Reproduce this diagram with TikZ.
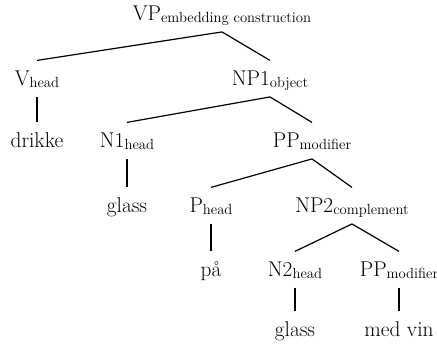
\documentclass[tikz,border=0pt]{standalone}
\usepackage{tikz}
\usetikzlibrary{positioning}
\newcommand{\lab}[1]{\raisebox{-1.5pt}{\fontsize{11}{12}\selectfont #1}}
\tikzset{
  every picture/.style={x=0.75pt, y=-0.75pt},
  cat/.style={font=\fontsize{16}{18}\selectfont, text height=14pt, text depth=3pt,
              inner xsep=1pt, inner ysep=5pt, anchor=base},
  rama/.style={line width=0.9pt},
}
\begin{document}
\begin{tikzpicture}
  \useasboundingbox (0,0) rectangle (437,349);
  % categorias
  \node[cat] (vp) at (222,21) {VP\lab{embedding construction}};
  \node[cat] (vh) at (37,86) {V\lab{head}};
  \node[cat] (np1) at (270,86) {NP1\lab{object}};
  \node[cat] (drikke) at (37,148) {drikke};
  \node[cat] (n1) at (127,148) {N1\lab{head}};
  \node[cat] (pp1) at (312,148) {PP\lab{modifier}};
  \node[cat] (glassa) at (127,213) {glass};
  \node[cat] (ph) at (211,213) {P\lab{head}};
  \node[cat] (np2) at (352,213) {NP2\lab{complement}};
  \node[cat] (paa) at (211,277) {på};
  \node[cat] (n2) at (295,277) {N2\lab{head}};
  \node[cat] (pp2) at (399,277) {PP\lab{modifier}};
  \node[cat] (glassb) at (295,337) {glass};
  \node[cat] (medvin) at (399,337) {med vin};
  % ramas
  \foreach \p/\c in {vp/vh, vp/np1, vh/drikke, np1/n1, np1/pp1, n1/glassa,
                     pp1/ph, pp1/np2, ph/paa, np2/n2, np2/pp2, n2/glassb, pp2/medvin}
    \draw[rama] (\p.south) -- (\c.north);
\end{tikzpicture}
\end{document}
